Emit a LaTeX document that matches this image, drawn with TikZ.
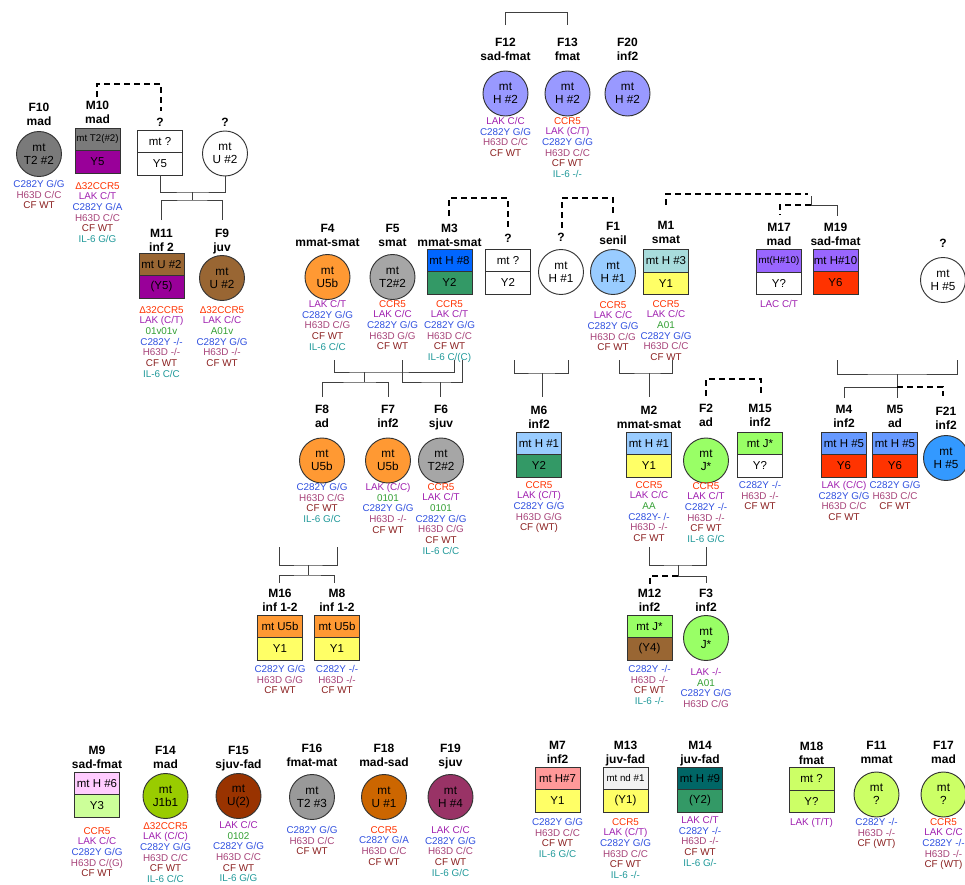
\documentclass[tikz,border=0pt]{standalone}
\usepackage{fontspec}
\setmainfont{Liberation Sans}
\definecolor{cR}{HTML}{FF3300}
\definecolor{cL}{HTML}{A020B0}
\definecolor{cY}{HTML}{3050E0}
\definecolor{cH}{HTML}{A8447A}
\definecolor{cF}{HTML}{8B2020}
\definecolor{cI}{HTML}{20999A}
\definecolor{cA}{HTML}{33A033}
\definecolor{fGd}{HTML}{7A7A7A}
\definecolor{fGm}{HTML}{A6A6A6}
\definecolor{fGl}{HTML}{999999}
\definecolor{fPu}{HTML}{990099}
\definecolor{fBr}{HTML}{996633}
\definecolor{fPw}{HTML}{9999FF}
\definecolor{fOr}{HTML}{FF9933}
\definecolor{fBl}{HTML}{0066FF}
\definecolor{fGr}{HTML}{339966}
\definecolor{fLb}{HTML}{99CCFF}
\definecolor{fTq}{HTML}{A8DCDC}
\definecolor{fYe}{HTML}{FFFF66}
\definecolor{fVi}{HTML}{9966FF}
\definecolor{fRd}{HTML}{FF3300}
\definecolor{fCb}{HTML}{6699FF}
\definecolor{fAz}{HTML}{3399FF}
\definecolor{fLg}{HTML}{99FF66}
\definecolor{fPk}{HTML}{FFCCFF}
\definecolor{fPg}{HTML}{CCFF99}
\definecolor{fOl}{HTML}{99CC00}
\definecolor{fRb}{HTML}{993300}
\definecolor{fOb}{HTML}{CC6600}
\definecolor{fMa}{HTML}{993366}
\definecolor{fSa}{HTML}{FF9999}
\definecolor{fWh}{HTML}{F2F2F2}
\definecolor{fDt}{HTML}{006666}
\definecolor{fYg}{HTML}{CCFF66}
\newcommand\gnR[1]{\textcolor{cR}{#1}}
\newcommand\gnL[1]{\textcolor{cL}{#1}}
\newcommand\gnY[1]{\textcolor{cY}{#1}}
\newcommand\gnH[1]{\textcolor{cH}{#1}}
\newcommand\gnF[1]{\textcolor{cF}{#1}}
\newcommand\gnI[1]{\textcolor{cI}{#1}}
\newcommand\gnA[1]{\textcolor{cA}{#1}}
\newcommand\tinyfnt{\fontsize{7.3}{8}\selectfont}
\newcommand\mbx[7]{%
  \node[half, fill=#4] (#1t) at (#2,#3-11.25) {#5};
  \node[half, fill=#6] (#1b) at (#2,#3+11.25) {#7};}
\newcommand\lbl[4]{\node[lab] (#1) at (#2,#3-4.3) {#4};}
\newcommand\gns[4]{\node[gene] (#1) at (#2,#3-2.0) {#4};}
\tikzset{
  lk/.style={draw=black!75, line width=0.75pt},
  dk/.style={draw=black, line width=1.8pt, dash pattern=on 4.5pt off 3pt},
  circ/.style={circle, draw=black!80, line width=0.7pt, minimum size=33.75pt, inner sep=0pt, align=center, font=\fontsize{8.8}{9.8}\selectfont},
  half/.style={rectangle, draw=black!80, line width=0.7pt, minimum width=33.75pt, minimum height=16.875pt, inner sep=0pt, font=\fontsize{8.6}{10}\selectfont},
  lab/.style={anchor=north, align=center, inner sep=0pt, font=\bfseries\fontsize{9}{10.8}\selectfont},
  gene/.style={anchor=north, align=center, inner sep=0pt, font=\fontsize{7.4}{8}\selectfont},
}
\begin{document}
\begin{tikzpicture}[x=0.75pt, y=-0.75pt]
\fill[white] (0,0) rectangle (965,885);
\useasboundingbox (0,0) rectangle (965,885);

% ---------------- top-left family
\node[circ, fill=fGd] (F10) at (39,154) {mt\\T2 \#2};
\lbl{F10l}{39}{107}{F10\\mad}
\gns{F10g}{39}{182}{\gnY{C282Y G/G}\\\gnH{H63D C/C}\\\gnF{CF WT}}

\mbx{M10}{97.5}{150.5}{fGd}{\tinyfnt mt T2(\#2)}{fPu}{Y5}
\lbl{M10l}{97.5}{105}{M10\\mad}
\gns{M10g}{97.5}{184}{\gnR{Δ32CCR5}\\\gnL{LAK C/T}\\\gnY{C282Y G/A}\\\gnH{H63D C/C}\\\gnF{CF WT}\\\gnI{IL-6 G/G}}

\mbx{Q1}{160}{152.5}{white}{mt ?}{white}{Y5}
\lbl{Q1l}{160}{122}{?}
\node[circ, fill=white] (Q1c) at (225,153.5) {mt\\U \#2};
\lbl{Q1cl}{225}{122}{?}

\mbx{M11}{161.5}{275.5}{fBr}{mt U \#2}{fPu}{(Y5)}
\lbl{M11l}{161.5}{233}{M11\\inf 2}
\gns{M11g}{161.5}{308}{\gnR{Δ32CCR5}\\\gnL{LAK (C/T)}\\\gnA{01v01v}\\\gnY{C282Y -/-}\\\gnH{H63D -/-}\\\gnF{CF WT}\\\gnI{IL-6 C/C}}

\node[circ, fill=fBr] (F9) at (222,278) {mt\\U \#2};
\lbl{F9l}{222}{233}{F9\\juv}
\gns{F9g}{222}{308}{\gnR{Δ32CCR5}\\\gnL{LAK C/C}\\\gnA{A01v}\\\gnY{C282Y G/G}\\\gnH{H63D -/-}\\\gnF{CF WT}}

\coordinate (dA1) at (97,97);
\coordinate (dA2) at (161,111);
\draw[dk] (dA1) -- (97,84) -| (dA2);
\coordinate (jA0) at (192.5,192);
\coordinate (sA0) at (192.5,200);
\coordinate (cM11) at (161.5,220);
\coordinate (cF9) at (222,220);
\draw[lk] (Q1b.south) |- (jA0) -| (Q1c.south);
\draw[lk] (jA0) -- (sA0);
\draw[lk] (cM11) |- (sA0) -| (cF9);

% ---------------- top centre
\node[circ, fill=fPw] (F12) at (505.5,93.5) {mt\\H \#2};
\lbl{F12l}{505.5}{42}{F12\\sad-fmat}
\gns{F12g}{505.5}{119}{\gnL{LAK C/C}\\\gnY{C282Y G/G}\\\gnH{H63D C/C}\\\gnF{CF WT}}
\node[circ, fill=fPw] (F13) at (567.5,93.5) {mt\\H \#2};
\lbl{F13l}{567.5}{42}{F13\\fmat}
\gns{F13g}{567.5}{119}{\gnR{CCR5}\\\gnL{LAK (C/T)}\\\gnY{C282Y G/G}\\\gnH{H63D C/C}\\\gnF{CF WT}\\\gnI{IL-6 -/-}}
\node[circ, fill=fPw] (F20) at (627.5,93.5) {mt\\H \#2};
\lbl{F20l}{627.5}{42}{F20\\inf2}
\coordinate (t12) at (505.5,25);
\coordinate (t13) at (567.5,25);
\draw[lk] (t12) -- ++(0,-13) -| (t13);

% ---------------- middle row
\node[circ, fill=fOr] (F4) at (327.5,277) {mt\\U5b};
\lbl{F4l}{327.5}{228}{F4\\mmat-smat}
\gns{F4g}{327.5}{302}{\gnL{LAK C/T}\\\gnY{C282Y G/G}\\\gnH{H63D C/G}\\\gnF{CF WT}\\\gnI{IL-6 C/C}}

\node[circ, fill=fGm] (F5) at (392.5,277) {mt\\T2\#2};
\lbl{F5l}{392.5}{228}{F5\\smat}
\gns{F5g}{392.5}{302}{\gnR{CCR5}\\\gnL{LAK C/C}\\\gnY{C282Y G/G}\\\gnH{H63D G/G}\\\gnF{CF WT}}

\mbx{M3}{449.5}{271.5}{fBl}{mt H \#8}{fGr}{Y2}
\lbl{M3l}{449.5}{228}{M3\\mmat-smat}
\gns{M3g}{449.5}{302}{\gnR{CCR5}\\\gnL{LAK C/T}\\\gnY{C282Y G/G}\\\gnH{H63D C/C}\\\gnF{CF WT}\\\gnI{IL-6 C/(C)}}

\mbx{Q2}{508}{271.5}{white}{mt ?}{white}{Y2}
\lbl{Q2l}{508}{238}{?}
\node[circ, fill=white] (Q2c) at (561,272) {mt\\H \#1};
\lbl{Q2cl}{561}{237}{?}

\node[circ, fill=fLb] (F1) at (613,272) {mt\\H \#1};
\lbl{F1l}{613}{226}{F1\\senil}
\gns{F1g}{613}{303}{\gnR{CCR5}\\\gnL{LAK C/C}\\\gnY{C282Y G/G}\\\gnH{H63D C/G}\\\gnF{CF WT}}

\mbx{M1}{666}{272}{fTq}{mt H \#3}{fYe}{Y1}
\lbl{M1l}{666}{225}{M1\\smat}
\gns{M1g}{666}{302}{\gnR{CCR5}\\\gnL{LAK C/C}\\\gnA{A01}\\\gnY{C282Y G/G}\\\gnH{H63D C/C}\\\gnF{CF WT}}

\mbx{M17}{779}{272}{fVi}{\tinyfnt mt(H\#10)}{white}{Y?}
\lbl{M17l}{779}{227}{M17\\mad}
\gns{M17g}{779}{302}{\gnL{LAC C/T}}

\mbx{M19}{835.5}{271.5}{fVi}{mt H\#10}{fRd}{Y6}
\lbl{M19l}{835.5}{227}{M19\\sad-fmat}

\node[circ, fill=white] (Q3c) at (943,280) {mt\\H \#5};
\lbl{Q3cl}{943}{243}{?}

% dashed links middle
\coordinate (dB1) at (449,216);
\coordinate (dB2) at (508,229);
\draw[dk] (dB1) -- (449,198) -- (508,198) -- (dB2);
\coordinate (dC1) at (562,228);
\coordinate (dC2) at (613,215);
\draw[dk] (dC1) -- (562,198) -- (613,198) -- (dC2);
\coordinate (dD1) at (666,205);
\draw[dk] (dD1) -- (666,194) -- (808,194);
\coordinate (jD) at (811,205);
\coordinate (cM17) at (780,215);
\coordinate (cM19) at (837,216);
\draw[lk] (811,196) -- (jD) -| (cM19);
\draw[dk] (jD) -| (cM17);

% ---------------- right family
\coordinate (rA) at (837,360);
\coordinate (rB) at (957,360);
\coordinate (rJ) at (897,374);
\coordinate (rS) at (897,387);
\coordinate (cM4) at (844,398);
\coordinate (cM5) at (897,398);
\coordinate (cF21) at (943,396);
\draw[lk] (rA) |- (rJ) -| (rB);
\draw[lk] (rJ) -- (rS);
\draw[lk] (cM4) |- (rS) -- (cM5);
\draw[dk] (rS) -| (cF21);

\mbx{M4}{844}{454.5}{fCb}{mt H \#5}{fRd}{Y6}
\lbl{M4l}{844}{409}{M4\\inf2}
\gns{M4g}{844}{483}{\gnL{LAK (C/C)}\\\gnY{C282Y G/G}\\\gnH{H63D C/C}\\\gnF{CF WT}}
\mbx{M5}{895}{454.5}{fCb}{mt H \#5}{fRd}{Y6}
\lbl{M5l}{895}{409}{M5\\ad}
\gns{M5g}{895}{483}{\gnY{C282Y G/G}\\\gnH{H63D C/C}\\\gnF{CF WT}}
\node[circ, fill=fAz] (F21) at (946,458) {mt\\H \#5};
\lbl{F21l}{946}{411}{F21\\inf2}

% ---------------- F4 x M3, F5 x M3
\coordinate (mA1) at (334,360);
\coordinate (mA2) at (454,360);
\coordinate (jA) at (364,372);
\coordinate (sA) at (364,382);
\coordinate (cF8) at (322,397);
\coordinate (cF7) at (388,397);
\draw[lk] (mA1) |- (jA) -| (mA2);
\draw[lk] (jA) -- (sA);
\draw[lk] (cF8) |- (sA) -| (cF7);
\coordinate (mB1) at (402,360);
\coordinate (mB2) at (462,360);
\coordinate (jB) at (440,382);
\coordinate (cF6) at (440,397);
\draw[lk] (mB1) |- (jB) -| (mB2);
\draw[lk] (jB) -- (cF6);

\node[circ, fill=fOr] (F8) at (322,460.5) {mt\\U5b};
\lbl{F8l}{322}{409}{F8\\ad}
\gns{F8g}{322}{485}{\gnY{C282Y G/G}\\\gnH{H63D C/G}\\\gnF{CF WT}\\\gnI{IL-6 G/C}}
\node[circ, fill=fOr] (F7) at (388,460.5) {mt\\U5b};
\lbl{F7l}{388}{409}{F7\\inf2}
\gns{F7g}{388}{485}{\gnL{LAK (C/C)}\\\gnA{0101}\\\gnY{C282Y G/G}\\\gnH{H63D -/-}\\\gnF{CF WT}}
\node[circ, fill=fGm] (F6) at (441,460.5) {mt\\T2\#2};
\lbl{F6l}{441}{409}{F6\\sjuv}
\gns{F6g}{441}{485}{\gnR{CCR5}\\\gnL{LAK C/T}\\\gnA{0101}\\\gnY{C282Y G/G}\\\gnH{H63D C/G}\\\gnF{CF WT}\\\gnI{IL-6 C/C}}

% ---------------- M16, M8
\coordinate (mC1) at (279,547);
\coordinate (mC2) at (337,547);
\coordinate (jC) at (308,565);
\coordinate (sC) at (308,575);
\coordinate (cM16) at (279,583);
\coordinate (cM8) at (334,583);
\draw[lk] (mC1) |- (jC) -| (mC2);
\draw[lk] (jC) -- (sC);
\draw[lk] (cM16) |- (sC) -| (cM8);

\mbx{M16}{280}{637.5}{fOr}{mt U5b}{fYe}{Y1}
\lbl{M16l}{280}{593}{M16\\inf 1-2}
\gns{M16g}{280}{667}{\gnY{C282Y G/G}\\\gnH{H63D G/G}\\\gnF{CF WT}}
\mbx{M8}{337}{637.5}{fOr}{mt U5b}{fYe}{Y1}
\lbl{M8l}{337}{593}{M8\\inf 1-2}
\gns{M8g}{337}{667}{\gnY{C282Y -/-}\\\gnH{H63D -/-}\\\gnF{CF WT}}

% ---------------- M6
\coordinate (mD1) at (514,360);
\coordinate (mD2) at (568,360);
\coordinate (jD6) at (542,373);
\coordinate (cM6) at (542,397);
\draw[lk] (mD1) |- (jD6) -| (mD2);
\draw[lk] (jD6) -- (cM6);
\mbx{M6}{539}{454.5}{fLb}{mt H \#1}{fGr}{Y2}
\lbl{M6l}{539}{410}{M6\\inf2}
\gns{M6g}{539}{483}{\gnR{CCR5}\\\gnL{LAK (C/T)}\\\gnY{C282Y G/G}\\\gnH{H63D G/G}\\\gnF{CF (WT)}}

% ---------------- M2, F2, M15
\coordinate (mE1) at (619,360);
\coordinate (mE2) at (672,360);
\coordinate (jE) at (649,373);
\coordinate (cM2) at (649,397);
\draw[lk] (mE1) |- (jE) -| (mE2);
\draw[lk] (jE) -- (cM2);
\mbx{M2}{649}{454.5}{fLb}{mt H \#1}{fYe}{Y1}
\lbl{M2l}{649}{410}{M2\\mmat-smat}
\gns{M2g}{649}{483}{\gnR{CCR5}\\\gnL{LAK C/C}\\\gnA{AA}\\\gnY{C282Y- /-}\\\gnH{H63D -/-}\\\gnF{CF WT}}

\node[circ, fill=fLg] (F2) at (706,460.5) {mt\\J*};
\lbl{F2l}{706}{408}{F2\\ad}
\gns{F2g}{706}{484}{\gnR{CCR5}\\\gnL{LAK C/T}\\\gnY{C282Y -/-}\\\gnH{H63D -/-}\\\gnF{CF WT}\\\gnI{IL-6 G/C}}

\mbx{M15}{760}{454.5}{fLg}{mt J*}{white}{Y?}
\lbl{M15l}{760}{408}{M15\\inf2}
\gns{M15g}{760}{483}{\gnY{C282Y -/-}\\\gnH{H63D -/-}\\\gnF{CF WT}}

\coordinate (dF1) at (706,396);
\coordinate (dF2) at (761,396);
\draw[dk] (dF1) -- (706,379) -| (dF2);

% ---------------- M12, F3
\coordinate (mG1) at (649,547);
\coordinate (mG2) at (706,547);
\coordinate (jG) at (678,565);
\coordinate (sG) at (678,576);
\coordinate (cM12) at (650,584);
\coordinate (cF3) at (706,583);
\draw[lk] (mG1) |- (jG) -| (mG2);
\draw[lk] (jG) -- (sG) -| (cF3);
\draw[dk] (sG) -| (cM12);

\mbx{M12}{649.5}{637.5}{fLg}{mt J*}{fBr}{(Y4)}
\lbl{M12l}{649.5}{593}{M12\\inf2}
\gns{M12g}{649.5}{667}{\gnY{C282Y -/-}\\\gnH{H63D -/-}\\\gnF{CF WT}\\\gnI{IL-6 -/-}}
\node[circ, fill=fLg] (F3) at (706,638) {mt\\J*};
\lbl{F3l}{706}{593}{F3\\inf2}
\gns{F3g}{706}{670}{\gnL{LAK -/-}\\\gnA{A01}\\\gnY{C282Y G/G}\\\gnH{H63D C/G}}

% ---------------- bottom row
\mbx{M9}{97}{794.5}{fPk}{mt H \#6}{fPg}{Y3}
\lbl{M9l}{97}{750}{M9\\sad-fmat}
\gns{M9g}{97}{829}{\gnR{CCR5}\\\gnL{LAK C/C}\\\gnY{C282Y G/G}\\\gnH{H63D C/(G)}\\\gnF{CF WT}}

\node[circ, fill=fOl] (F14) at (165.5,796) {mt\\J1b1};
\lbl{F14l}{165.5}{750}{F14\\mad}
\gns{F14g}{165.5}{824}{\gnR{Δ32CCR5}\\\gnL{LAK (C/C)}\\\gnY{C282Y G/G}\\\gnH{H63D C/C}\\\gnF{CF WT}\\\gnI{IL-6 C/C}}

\node[circ, fill=fRb] (F15) at (238.5,796) {mt\\U(2)};
\lbl{F15l}{238.5}{750}{F15\\sjuv-fad}
\gns{F15g}{238.5}{823}{\gnL{LAK C/C}\\\gnA{0102}\\\gnY{C282Y G/G}\\\gnH{H63D C/C}\\\gnF{CF WT}\\\gnI{IL-6 G/G}}

\node[circ, fill=fGl] (F16) at (312,797) {mt\\T2 \#3};
\lbl{F16l}{312}{748}{F16\\fmat-mat}
\gns{F16g}{312}{828}{\gnY{C282Y G/G}\\\gnH{H63D C/C}\\\gnF{CF WT}}

\node[circ, fill=fOb] (F18) at (384,797) {mt\\U \#1};
\lbl{F18l}{384}{748}{F18\\mad-sad}
\gns{F18g}{384}{828}{\gnR{CCR5}\\\gnY{C282Y G/A}\\\gnH{H63D C/C}\\\gnF{CF WT}}

\node[circ, fill=fMa] (F19) at (450.5,797) {mt\\H \#4};
\lbl{F19l}{450.5}{748}{F19\\sjuv}
\gns{F19g}{450.5}{828}{\gnL{LAK C/C}\\\gnY{C282Y G/G}\\\gnH{H63D C/C}\\\gnF{CF WT}\\\gnI{IL-6 G/C}}

\mbx{M7}{557.5}{789.5}{fSa}{mt H\#7}{fYe}{Y1}
\lbl{M7l}{557.5}{745}{M7\\inf2}
\gns{M7g}{557.5}{820}{\gnY{C282Y G/G}\\\gnH{H63D C/C}\\\gnF{CF WT}\\\gnI{IL-6 G/C}}

\mbx{M13}{625.5}{789.5}{fWh}{\tinyfnt mt nd \#1}{fYe}{(Y1)}
\lbl{M13l}{625.5}{745}{M13\\juv-fad}
\gns{M13g}{625.5}{820}{\gnR{CCR5}\\\gnL{LAK (C/T)}\\\gnY{C282Y G/G}\\\gnH{H63D C/C}\\\gnF{CF WT}\\\gnI{IL-6 -/-}}

\mbx{M14}{700}{789.5}{fDt}{mt H \#9}{fGr}{(Y2)}
\lbl{M14l}{700}{745}{M14\\juv-fad}
\gns{M14g}{700}{818}{\gnL{LAK C/T}\\\gnY{C282Y -/-}\\\gnH{H63D -/-}\\\gnF{CF WT}\\\gnI{IL-6 G/-}}

\mbx{M18}{811.5}{790}{fYg}{mt ?}{fYg}{Y?}
\lbl{M18l}{811.5}{746}{M18\\fmat}
\gns{M18g}{811.5}{820}{\gnL{LAK (T/T)}}

\node[circ, fill=fYg] (F11) at (876.5,794.5) {mt\\?};
\lbl{F11l}{876.5}{745}{F11\\mmat}
\gns{F11g}{876.5}{820}{\gnY{C282Y -/-}\\\gnH{H63D -/-}\\\gnF{CF (WT)}}

\node[circ, fill=fYg] (F17) at (943.5,794.5) {mt\\?};
\lbl{F17l}{943.5}{745}{F17\\mad}
\gns{F17g}{943.5}{820}{\gnR{CCR5}\\\gnL{LAK C/C}\\\gnY{C282Y -/-}\\\gnH{H63D -/-}\\\gnF{CF (WT)}}
\end{tikzpicture}
\end{document}
